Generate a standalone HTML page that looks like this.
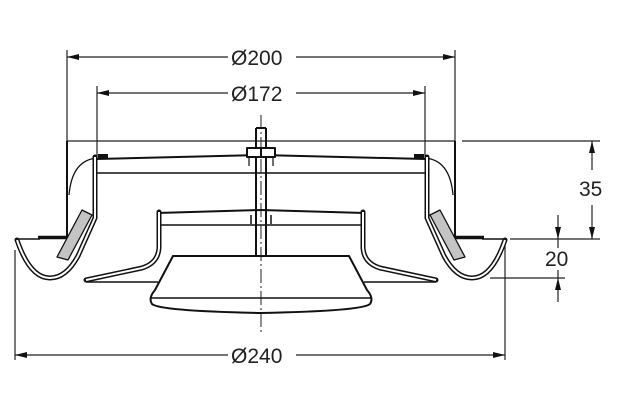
<!DOCTYPE html>
<html><head><meta charset="utf-8"><style>
html,body{margin:0;padding:0;background:#fff;}
svg{display:block;}
text{font-family:"Liberation Sans",sans-serif;font-size:21px;fill:#222;}
</style></head><body>
<svg width="628" height="410" viewBox="0 0 628 410" xmlns="http://www.w3.org/2000/svg">
<defs>
<g id="half" fill="none" stroke="#111" stroke-linejoin="round">
  <line x1="67" y1="141" x2="67" y2="238" stroke-width="2"/>
  <line x1="38" y1="237.5" x2="67" y2="237.5" stroke-width="3.5"/>
  <path d="M97,158 Q72,160 69,195" stroke-width="1.3"/>
  <path d="M17,240 Q30,278 50,278 Q66,278 78,256 L95,218 L95,157" stroke-width="5" stroke-linecap="round"/>
  <path d="M17,240 Q30,278 50,278 Q66,278 78,256 L95,218 L95,157" stroke="#fff" stroke-width="2"/>
  <line x1="15" y1="239" x2="40" y2="239" stroke-width="1.5"/>
  <polygon points="82,210 92,215 68,260 57,257" fill="#c4c4c4" stroke-width="1.3"/>
  <rect x="98" y="154" width="10" height="5" fill="#111" stroke="none"/>
  <path d="M97,159 L261,155" stroke-width="2"/>
  <line x1="97" y1="173" x2="261" y2="173" stroke-width="1.6"/>
  <path d="M157,213 L261,210" stroke-width="2"/>
  <line x1="161" y1="225" x2="261" y2="225" stroke-width="1.6"/>
  <path d="M159,212 L159,248 Q158,263 142,268 L86,280" stroke-width="5" stroke-linecap="round"/>
  <path d="M159,212 L159,248 Q158,263 142,268 L86,280" stroke="#fff" stroke-width="2"/>
  <line x1="86" y1="282" x2="158" y2="282" stroke-width="1.5"/>
  <path d="M261,256 L173,256 L155,290 Q148,298 152,304 Q160,311 261,313" stroke-width="2"/>
  <line x1="151" y1="298" x2="261" y2="298" stroke-width="1.6"/>
  <line x1="256" y1="128" x2="256" y2="256" stroke-width="2"/>
  <line x1="256" y1="128" x2="261" y2="128" stroke-width="2"/>
  <rect x="247" y="148" width="14" height="9" fill="#fff" stroke-width="2"/>
  <line x1="251" y1="215" x2="251" y2="224" stroke-width="1.5"/>
  <line x1="249" y1="158" x2="249" y2="166" stroke-width="1.2"/>
</g>
</defs>
<g fill="none" stroke="#222" stroke-width="1.2">
  <line x1="67" y1="50" x2="67" y2="141"/>
  <line x1="455" y1="50" x2="455" y2="141"/>
  <line x1="97" y1="86" x2="97" y2="158"/>
  <line x1="425" y1="86" x2="425" y2="158"/>
  <line x1="67" y1="141" x2="455" y2="141"/>
  <line x1="462" y1="141" x2="600" y2="141"/>
  <line x1="510" y1="239" x2="600" y2="239"/>
  <line x1="490" y1="278" x2="565" y2="278"/>
  <line x1="15" y1="250" x2="15" y2="360"/>
  <line x1="505" y1="242" x2="505" y2="360"/>
  <line x1="67" y1="57" x2="228" y2="57"/><line x1="296" y1="57" x2="455" y2="57"/>
  <line x1="97" y1="93" x2="228" y2="93"/><line x1="296" y1="93" x2="425" y2="93"/>
  <line x1="15" y1="355" x2="228" y2="355"/><line x1="296" y1="355" x2="505" y2="355"/>
  <line x1="592" y1="141" x2="592" y2="170"/><line x1="592" y1="205" x2="592" y2="239"/>
  <line x1="558" y1="215" x2="558" y2="239"/><line x1="558" y1="278" x2="558" y2="302"/>
  <line x1="558" y1="239" x2="558" y2="248"/><line x1="558" y1="270" x2="558" y2="278"/>
  <line x1="261" y1="115" x2="261" y2="332" stroke-dasharray="14,3,2,3" stroke-width="1"/>
</g>
<g fill="#111">
  <polygon points="67,57 79,54 79,60"/><polygon points="455,57 443,54 443,60"/>
  <polygon points="97,93 109,90 109,96"/><polygon points="425,93 413,90 413,96"/>
  <polygon points="15,355 27,352 27,358"/><polygon points="505,355 493,352 493,358"/>
  <polygon points="592,141 589,153 595,153"/><polygon points="592,239 589,227 595,227"/>
  <polygon points="558,239 555,227 561,227"/><polygon points="558,278 555,290 561,290"/>
</g>
<use href="#half"/>
<use href="#half" transform="translate(522,0) scale(-1,1)"/>
<text x="231" y="65">Ø200</text>
<text x="231" y="101">Ø172</text>
<text x="231" y="363">Ø240</text>
<text x="579" y="196">35</text>
<text x="545" y="266">20</text>
</svg>
</body></html>
